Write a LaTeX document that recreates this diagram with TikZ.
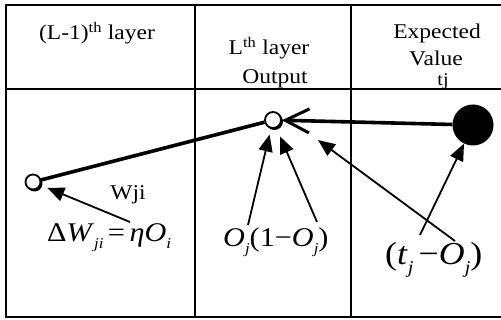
\documentclass[tikz,border=0pt]{standalone}
\usepackage{fontspec}
\setmainfont{Liberation Serif}[FakeStretch=1.12]
\usetikzlibrary{arrows.meta}
\begin{document}
\begin{tikzpicture}[x=1pt,y=-1pt,
  grid/.style={line width=1.6pt},
  hdr/.style={anchor=base,inner sep=0pt,font=\fontsize{21}{21}\selectfont},
  mth/.style={anchor=base west,inner sep=0pt},
  conn/.style={line width=3.6pt},
  arr/.style={line width=1.8pt,-{Triangle[length=17pt,width=14pt]}},
  opennode/.style={circle,draw,line width=1.8pt,fill=white,inner sep=0pt},
]
\useasboundingbox (0,0) rectangle (501,320);
% table
\draw[grid] (501,5) -- (6,5) -- (6,317) -- (501,317);
\draw[grid] (6,89) -- (501,89);
\draw[grid] (195,5) -- (195,317);
\draw[grid] (351,5) -- (351,317);
% headers
\node[hdr] (hl) at (97,40) {(L-1)\textsuperscript{th} layer};
\node[hdr] (hm1) at (269,55) {L\textsuperscript{th} layer};
\node[hdr] (hm2) at (275,84) {Output};
\node[hdr] (hr1) at (437,39) {Expected};
\node[hdr] (hr2) at (436,66) {Value};
\node[hdr,font=\fontsize{18}{18}\selectfont] (hr3) at (443,86) {tj};
% neurons
\fill (34.5,183.5) circle (8);
\node[opennode,minimum size=15pt] (ci) at (33,182) {};
\fill (274.5,121.5) circle (8.5);
\node[opennode,minimum size=16pt] (cm) at (273,120) {};
\node[circle,fill=black,minimum size=41pt,inner sep=0pt] (cb) at (473,125) {};
% connections
\draw[conn] (ci) -- (cm);
\draw[conn,-{Straight Barb[length=24pt,width=24pt,line width=3pt]}] (cb) -- (cm);
% labels
\node[hdr] (w) at (128,200) {Wji};
\node[mth,font=\fontsize{27}{27}\selectfont] (dw) at (47,242)
  {Δ\textit{W}\raisebox{-7pt}{\fontsize{15}{15}\selectfont\itshape ji}\,=\,\textit{ηO}\raisebox{-7pt}{\fontsize{15}{15}\selectfont\itshape i}};
\node[mth,font=\fontsize{27}{27}\selectfont] (oj) at (223,247)
  {\textit{O}\raisebox{-7pt}{\fontsize{15}{15}\selectfont\itshape j}(1−\textit{O}\raisebox{-7pt}{\fontsize{15}{15}\selectfont\itshape j})};
\node[mth,font=\fontsize{32}{32}\selectfont] (tj) at (385,265)
  {(\textit{t}\raisebox{-9pt}{\fontsize{18}{18}\selectfont\itshape j}\,−\textit{O}\raisebox{-9pt}{\fontsize{18}{18}\selectfont\itshape j})};
% arrows
\coordinate (a1) at (130,222);
\coordinate (a2) at (248,225);
\coordinate (a3) at (317,222);
\coordinate (a4) at (455,241);
\coordinate (h4) at (318,140);
\coordinate (a5) at (420,235);
\draw[arr,shorten >=7pt] (a1) -- (ci);
\draw[arr,shorten >=6pt] (a2) -- (cm);
\draw[arr,shorten >=9pt] (a3) -- (cm);
\draw[arr] (a4) -- (h4);
\draw[arr] (a5) -- (cb);
\end{tikzpicture}
\end{document}
